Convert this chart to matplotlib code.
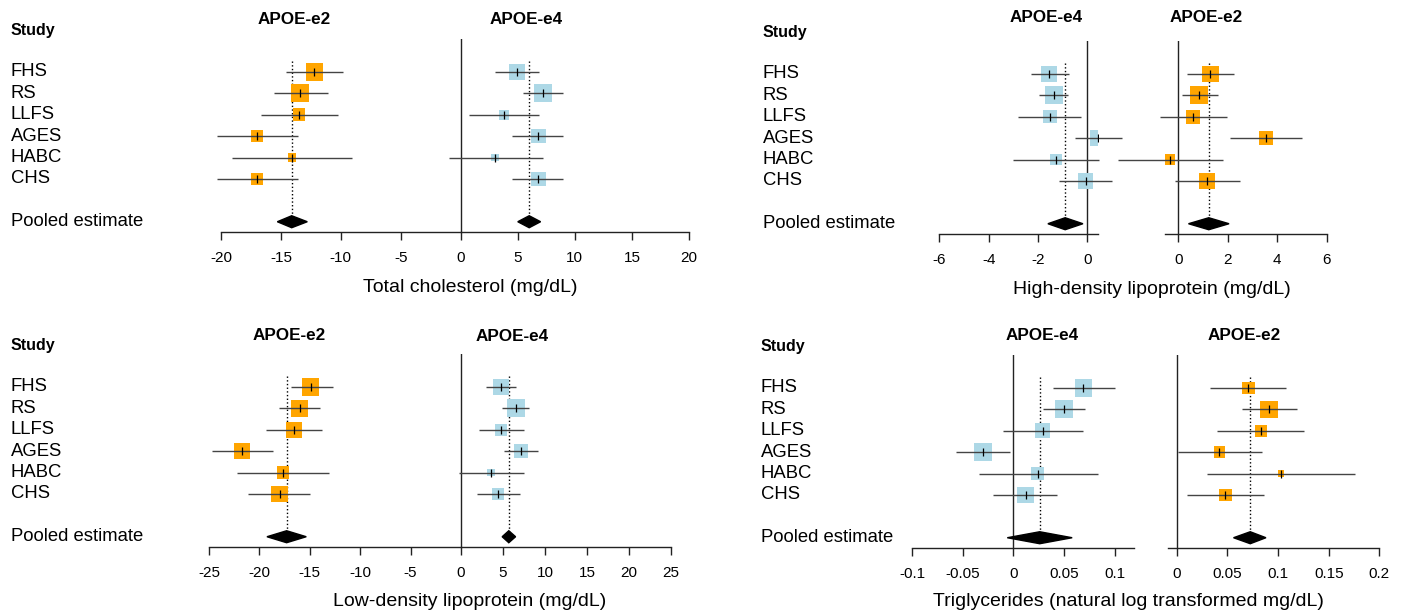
import matplotlib
matplotlib.use("Agg")
import matplotlib.pyplot as plt
import matplotlib.transforms as mtransforms
from matplotlib.patches import Polygon

plt.rcParams["font.family"] = ["Liberation Sans", "DejaVu Sans"]
plt.rcParams["axes.unicode_minus"] = False

W, H = 1403, 614

studies = ["FHS", "RS", "LLFS", "AGES", "HABC", "CHS"]
pooled_label = "Pooled estimate"

# total cholesterol (mg/dL)
tc_e2_est = [-12.2, -13.4, -13.5, -17.0, -14.1, -17.0]
tc_e2_lo = [-14.6, -15.6, -16.7, -20.3, -19.1, -20.3]
tc_e2_hi = [-9.8, -11.1, -10.2, -13.6, -9.1, -13.6]
tc_e2_w = [38, 40, 28, 28, 18, 28]
tc_e2_pool = [-14.1, -15.3, -12.8]
tc_e4_est = [4.9, 7.2, 3.8, 6.8, 3.0, 6.8]
tc_e4_lo = [3.0, 5.5, 0.7, 4.5, -1.0, 4.5]
tc_e4_hi = [6.9, 9.0, 6.9, 9.0, 7.2, 9.0]
tc_e4_w = [36, 40, 22, 32, 16, 32]
tc_e4_pool = [6.0, 5.0, 7.0]

# high-density lipoprotein (mg/dL)
hdl_e4_est = [-1.54, -1.36, -1.52, 0.43, -1.27, -0.07]
hdl_e4_lo = [-2.28, -1.95, -2.8, -0.52, -3.0, -1.15]
hdl_e4_hi = [-0.75, -0.79, -0.25, 1.4, 0.48, 0.99]
hdl_e4_w = [36, 40, 30, 34, 26, 34]
hdl_e4_pool = [-0.9, -1.6, -0.18]
hdl_e2_est = [1.3, 0.84, 0.59, 3.55, -0.34, 1.16]
hdl_e2_lo = [0.36, 0.13, -0.73, 2.09, -2.46, -0.14]
hdl_e2_hi = [2.25, 1.59, 1.96, 5.0, 1.82, 2.48]
hdl_e2_w = [36, 40, 32, 32, 24, 34]
hdl_e2_pool = [1.23, 0.41, 2.05]

# low-density lipoprotein (mg/dL)
ldl_e2_est = [-14.9, -16.0, -16.6, -21.7, -17.65, -18.0]
ldl_e2_lo = [-16.9, -18.1, -19.3, -24.7, -22.2, -21.1]
ldl_e2_hi = [-12.7, -14.0, -13.8, -18.7, -13.05, -14.95]
ldl_e2_w = [38, 38, 36, 36, 28, 36]
ldl_e2_pool = [-17.3, -19.25, -15.35]
ldl_e4_est = [4.73, 6.49, 4.79, 7.13, 3.56, 4.41]
ldl_e4_lo = [2.93, 4.9, 2.13, 5.16, -0.27, 1.86]
ldl_e4_hi = [6.49, 8.1, 7.5, 9.15, 7.45, 6.97]
ldl_e4_w = [36, 40, 26, 32, 16, 26]
ldl_e4_pool = [5.69, 4.9, 6.5]

# triglycerides (natural log transformed mg/dL)
tg_e4_est = [0.069, 0.050, 0.029, -0.030, 0.024, 0.012]
tg_e4_lo = [0.039, 0.029, -0.010, -0.057, -0.034, -0.020]
tg_e4_hi = [0.100, 0.071, 0.069, -0.003, 0.083, 0.043]
tg_e4_w = [38, 40, 34, 40, 30, 36]
tg_e4_pool = [0.026, -0.006, 0.058]
tg_e2_est = [0.0707, 0.091, 0.083, 0.042, 0.103, 0.048]
tg_e2_lo = [0.033, 0.064, 0.040, 0.001, 0.030, 0.010]
tg_e2_hi = [0.108, 0.119, 0.126, 0.084, 0.176, 0.086]
tg_e2_w = [28, 38, 26, 26, 14, 28]
tg_e2_pool = [0.0725, 0.056, 0.088]

ORANGE = "#FFA500"
BLUE = "#ADD8E6"
LINE = "#222222"
CI = "#444444"

fig = plt.figure(figsize=(W / 100, H / 100), dpi=100)

rows = list(range(1, len(studies) + 1))
pool_row = 8


def side(px0, px1, xlim, ticks, f, est, lo, hi, w, pool, color):
    # one half of a forest plot, placed in pixel coords
    ax = fig.add_axes([px0 / W, 1 - (f + 160) / H, (px1 - px0) / W, 193 / H])
    ax.set_xlim(xlim)
    ax.set_ylim(8.48, -0.54)
    ax.patch.set_visible(False)
    for s in ["top", "right", "left"]:
        ax.spines[s].set_visible(False)
    ax.spines["bottom"].set_linewidth(1.0)
    ax.spines["bottom"].set_color(LINE)
    ax.set_yticks([])
    ax.set_xticks(ticks)
    ax.set_xticklabels([f"{t:g}" for t in ticks])
    ax.tick_params(axis="x", length=5.8, width=1.0, pad=8, labelsize=11, color=LINE)
    ax.axvline(0, color=LINE, lw=1.0)
    ax.vlines(pool[0], 0.5, pool_row, colors="black", linestyles=":", lw=1.0)
    sizes = [(wi / 40 * 18 * 0.72) ** 2 for wi in w]
    ax.scatter(est, rows, marker="s", s=sizes, color=color, linewidths=0, zorder=3)
    ax.hlines(rows, lo, hi, colors=CI, lw=1.0, zorder=4, clip_on=False)
    ax.scatter(est, rows, marker="|", s=30, color="black", linewidths=0.9, zorder=5)
    h = 0.28
    ax.add_patch(Polygon([(pool[1], pool_row), (pool[0], pool_row - h),
                          (pool[2], pool_row), (pool[0], pool_row + h)],
                         closed=True, color="black", zorder=5, clip_on=False))
    return ax


def labels(ax, xpx, title_pos, xlabel, xlabel_pos, study_y):
    tr = mtransforms.blended_transform_factory(fig.transFigure, ax.transData)
    for name, y in zip(studies, rows):
        fig.text(xpx / W, y, name, transform=tr, fontsize=13.3, va="center", ha="left")
    fig.text(xpx / W, pool_row, pooled_label, transform=tr, fontsize=13.3, va="center", ha="left")
    fig.text(xpx / W, 1 - study_y / H, "Study", fontsize=11.5, fontweight="bold", va="center", ha="left")
    for txt, (tx, ty) in title_pos:
        fig.text(tx / W, 1 - ty / H, txt, fontsize=12.3, fontweight="bold", va="center", ha="center")
    fig.text(xlabel_pos[0] / W, 1 - xlabel_pos[1] / H, xlabel, fontsize=14, va="center", ha="center")


# Total cholesterol
f = 72
a = side(221, 460.7, (-20, 0), [-20, -15, -10, -5, 0], f,
         tc_e2_est, tc_e2_lo, tc_e2_hi, tc_e2_w, tc_e2_pool, ORANGE)
side(460.7, 689, (0, 20), [5, 10, 15, 20], f,
     tc_e4_est, tc_e4_lo, tc_e4_hi, tc_e4_w, tc_e4_pool, BLUE)
labels(a, 11, [("APOE-e2", (294.5, 19.5)), ("APOE-e4", (526, 19.5))],
       "Total cholesterol (mg/dL)", (470, 287), 30.5)

# HDL
f = 74
a = side(939.3, 1098, (-6, 0.43), [-6, -4, -2, 0], f,
         hdl_e4_est, hdl_e4_lo, hdl_e4_hi, hdl_e4_w, hdl_e4_pool, BLUE)
side(1165, 1326.7, (-0.54, 6), [0, 2, 4, 6], f,
     hdl_e2_est, hdl_e2_lo, hdl_e2_hi, hdl_e2_w, hdl_e2_pool, ORANGE)
labels(a, 763, [("APOE-e4", (1045.8, 18)), ("APOE-e2", (1205.7, 18))],
       "High-density lipoprotein (mg/dL)", (1152, 290), 32.5)

# LDL
f = 387
a = side(209, 461, (-25, 0), [-25, -20, -15, -10, -5, 0], f,
         ldl_e2_est, ldl_e2_lo, ldl_e2_hi, ldl_e2_w, ldl_e2_pool, ORANGE)
side(461, 671, (0, 25), [5, 10, 15, 20, 25], f,
     ldl_e4_est, ldl_e4_lo, ldl_e4_hi, ldl_e4_w, ldl_e4_pool, BLUE)
labels(a, 11, [("APOE-e2", (289, 335)), ("APOE-e4", (512, 336.5))],
       "Low-density lipoprotein (mg/dL)", (470, 602), 345.5)

# Triglycerides
f = 388
a = side(912, 1133.5, (-0.1, 0.1185), [-0.1, -0.05, 0, 0.05, 0.1], f,
         tg_e4_est, tg_e4_lo, tg_e4_hi, tg_e4_w, tg_e4_pool, BLUE)
side(1168, 1379.4, (-0.0087, 0.2), [0, 0.05, 0.1, 0.15, 0.2], f,
     tg_e2_est, tg_e2_lo, tg_e2_hi, tg_e2_w, tg_e2_pool, ORANGE)
labels(a, 761, [("APOE-e4", (1042, 335)), ("APOE-e2", (1244, 336))],
       "Triglycerides (natural log transformed mg/dL)", (1128, 602), 346)

fig.savefig("out.png", dpi=100)
